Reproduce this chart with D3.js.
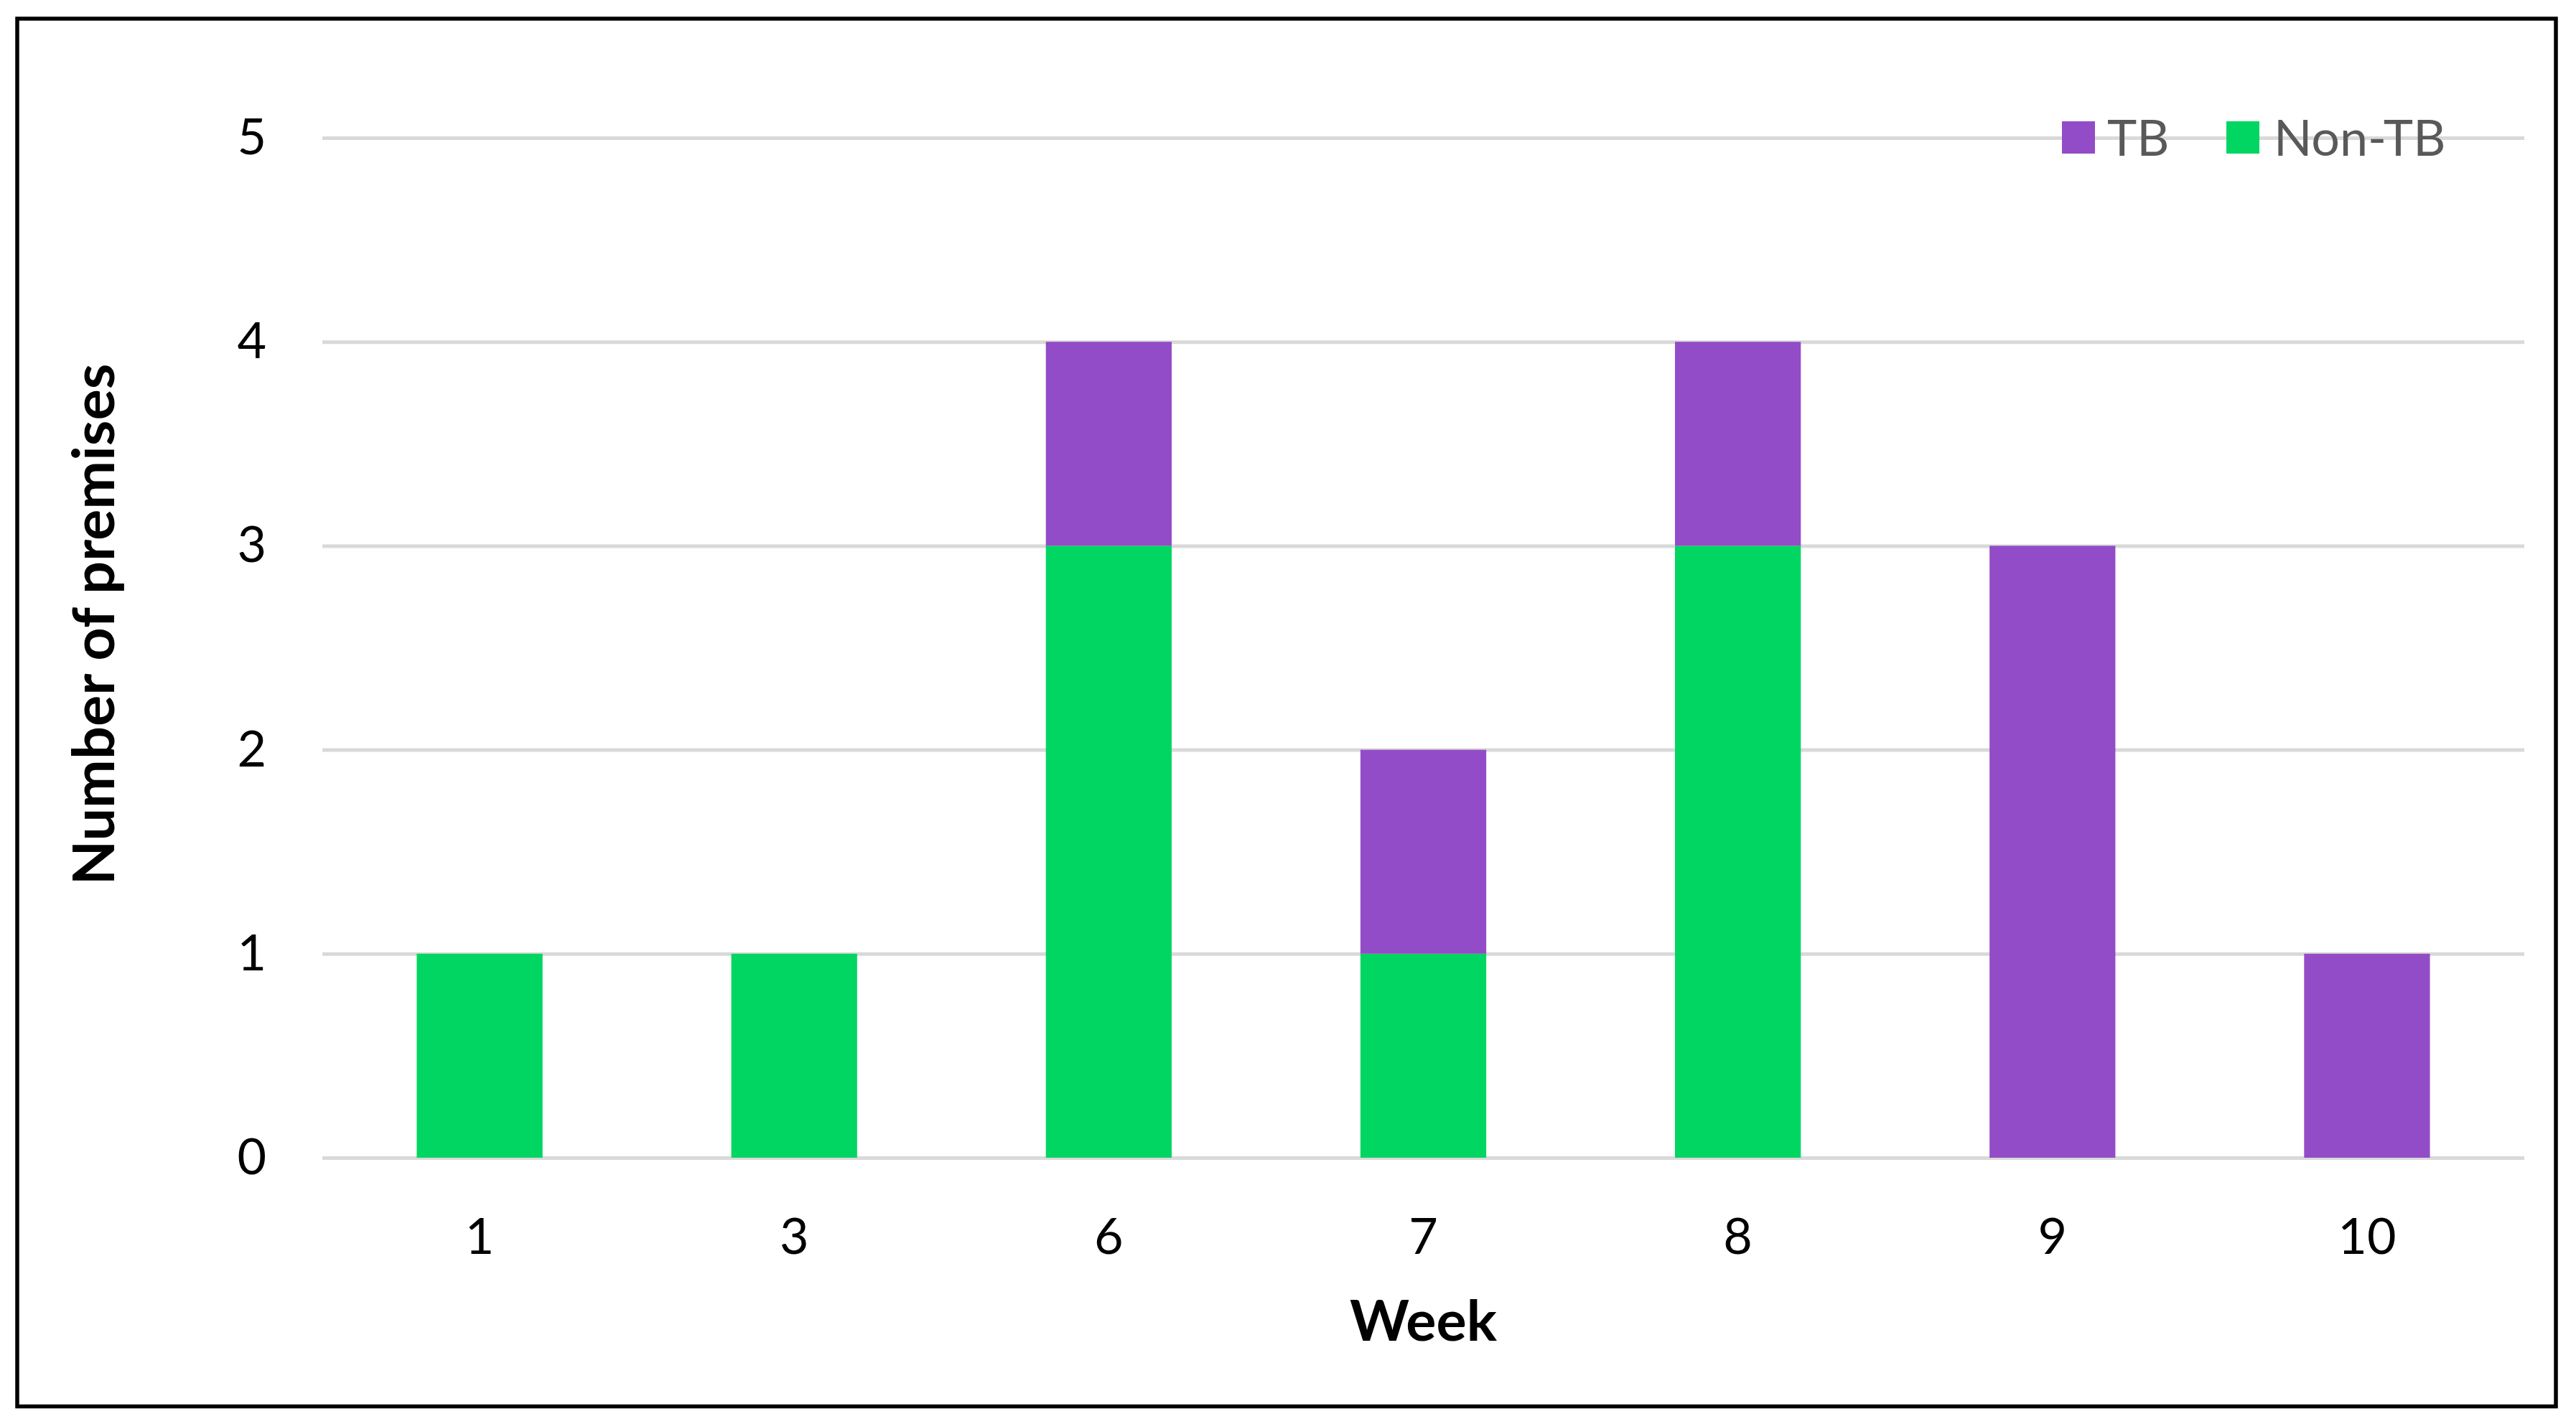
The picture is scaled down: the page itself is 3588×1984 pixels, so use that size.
<!DOCTYPE html>
<html>
<head>
<meta charset="utf-8">
<script src="https://cdn.jsdelivr.net/npm/d3@7"></script>
<style>
  html, body { margin: 0; padding: 0; background: #ffffff; }
  svg { display: block; }
</style>
</head>
<body>
<svg id="chart" width="3588" height="1984"></svg>
<script>
// ---- data ----
const weeks = ["1", "3", "6", "7", "8", "9", "10"];
const tbValues = [0, 0, 1, 1, 1, 3, 1];
const nonTbValues = [1, 1, 3, 1, 3, 0, 0];
const yTickValues = [0, 1, 2, 3, 4, 5];
const seriesNames = ["TB", "Non-TB"];
const seriesColors = { "TB": "#934cc7", "Non-TB": "#00d661" };
const xTitle = "Week";
const yTitle = "Number of premises";

// ---- layout ----
const W = 3588, H = 1984;
const plot = { left: 449, right: 3516, top: 192, bottom: 1613 };
const FONT = "Lato, 'Open Sans', sans-serif";

const svg = d3.select("#chart");

svg.append("rect").attr("width", W).attr("height", H).attr("fill", "#ffffff");

// outer border
svg.append("rect")
  .attr("x", 24).attr("y", 26)
  .attr("width", 3536).attr("height", 1933.5)
  .attr("fill", "none").attr("stroke", "#000").attr("stroke-width", 5.5);

const x = d3.scaleBand()
  .domain(weeks)
  .range([plot.left, plot.right])
  .paddingInner(0.6)
  .paddingOuter(0.3);

const y = d3.scaleLinear()
  .domain([0, 5])
  .range([plot.bottom, plot.top]);

// y axis with gridlines
const yAxis = svg.append("g")
  .attr("transform", `translate(${plot.left},0)`)
  .call(d3.axisLeft(y).tickValues(yTickValues).tickSize(-(plot.right - plot.left)).tickPadding(78).tickFormat(d3.format("d")));
yAxis.select(".domain").remove();
yAxis.selectAll(".tick line").attr("stroke", "#d9d9d9").attr("stroke-width", 5);
yAxis.selectAll(".tick text")
  .attr("font-family", FONT).attr("font-size", 70).attr("fill", "#000");

// stacked bars
const rows = weeks.map((w, i) => ({ week: w, "Non-TB": nonTbValues[i], "TB": tbValues[i] }));
const stack = d3.stack().keys(["Non-TB", "TB"]);
const layers = stack(rows);

svg.append("g").selectAll("g")
  .data(layers)
  .join("g")
  .attr("fill", d => seriesColors[d.key])
  .selectAll("rect")
  .data(d => d.filter(s => s[1] - s[0] > 0))
  .join("rect")
  .attr("x", d => x(d.data.week))
  .attr("width", x.bandwidth())
  .attr("y", d => y(d[1]))
  .attr("height", d => y(d[0]) - y(d[1]));

// x axis labels
const xAxis = svg.append("g")
  .attr("transform", `translate(0,${plot.bottom})`)
  .call(d3.axisBottom(x).tickSize(0).tickPadding(84));
xAxis.select(".domain").remove();
xAxis.selectAll(".tick text")
  .attr("font-family", FONT).attr("font-size", 70).attr("fill", "#000");

// axis titles
svg.append("text")
  .attr("x", (plot.left + plot.right) / 2)
  .attr("y", 1868)
  .attr("text-anchor", "middle")
  .attr("font-family", FONT).attr("font-weight", "bold").attr("font-size", 79)
  .attr("fill", "#000")
  .text(xTitle);

svg.append("text")
  .attr("transform", "translate(159,870) rotate(-90)")
  .attr("text-anchor", "middle")
  .attr("font-family", FONT).attr("font-weight", "bold").attr("font-size", 81)
  .attr("fill", "#000")
  .text(yTitle);

// legend
const legendPos = [
  { sx: 2872, tx: 2935 },
  { sx: 3101, tx: 3167 }
];
const legend = svg.append("g");
seriesNames.forEach((name, i) => {
  legend.append("rect")
    .attr("x", legendPos[i].sx).attr("y", 169)
    .attr("width", 46).attr("height", 45)
    .attr("fill", seriesColors[name]);
  legend.append("text")
    .attr("x", legendPos[i].tx).attr("y", 217)
    .attr("font-family", FONT).attr("font-size", 70)
    .attr("fill", "#595959")
    .text(name);
});
</script>
</body>
</html>
